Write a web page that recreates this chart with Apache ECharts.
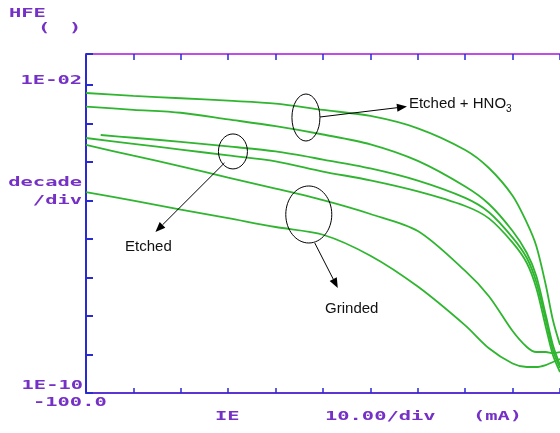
<!DOCTYPE html>
<html><head><meta charset="utf-8">
<script src="https://cdn.jsdelivr.net/npm/echarts@6/dist/echarts.min.js"></script>
<style>html,body{margin:0;padding:0;background:#fff}#c{width:560px;height:433px}</style>
</head><body><div id="c"></div>
<script>
// ---- data (IE in mA, HFE) ----
const ieMain = [-100, -90, -80, -70, -60, -50, -40, -30, -20, -15, -10, -7, -5, -3, -1.5, 0];
const ieCurve3 = [-96.9, -90, -80, -70, -60, -50, -40, -30, -20, -15, -10, -7, -5, -3, -1.5, 0];
const hfeCurve1 = [6.19e-3, 5.24e-3, 4.52e-3, 3.91e-3, 3.29e-3, 2.25e-3, 1.57e-3, 7.50e-4, 2.05e-4, 6.98e-5, 1.33e-5, 2.65e-6, 6.58e-7, 6.38e-8, 7.87e-9, 1.77e-9];
const hfeCurve2 = [2.73e-3, 2.27e-3, 1.90e-3, 1.28e-3, 8.51e-4, 5.18e-4, 2.88e-4, 1.07e-4, 2.31e-5, 8.11e-6, 1.61e-6, 4.33e-7, 1.09e-7, 1.06e-8, 1.77e-9, 5.33e-10];
const hfeCurve3 = [5.02e-4, 4.26e-4, 3.35e-4, 2.53e-4, 1.88e-4, 1.16e-4, 6.82e-5, 3.29e-5, 1.17e-5, 4.97e-6, 1.09e-6, 3.21e-7, 7.64e-8, 7.87e-9, 1.31e-9, 4.46e-10];
const hfeCurve4 = [4.20e-4, 2.97e-4, 2.10e-4, 1.48e-4, 1.04e-4, 5.66e-5, 3.33e-5, 1.72e-5, 7.19e-6, 3.43e-6, 8.05e-7, 2.38e-7, 5.33e-8, 5.18e-9, 9.70e-10, 3.51e-10];
const hfeCurve5 = [2.77e-4, 1.46e-4, 7.73e-5, 3.95e-5, 2.04e-5, 1.02e-5, 4.46e-6, 1.61e-6, 1.48e-7, 3.27e-8, 4.07e-9, 1.57e-9, 1.16e-9, 1.16e-9, 1.09e-9, 1.16e-9];
const hfeCurve6 = [1.66e-5, 9.89e-6, 5.83e-6, 3.47e-6, 2.05e-6, 1.29e-6, 3.68e-7, 5.81e-8, 5.70e-9, 1.45e-9, 5.83e-10, 4.73e-10, 4.73e-10, 5.33e-10, 6.38e-10, 7.64e-10];

const yTickValues = [1e-2, 1e-10];
const yTickTexts = ['1E-02', '1E-10'];
const xTickValues = [-100];
const xTickTexts = ['-100.0'];
const yUnitText = ['decade', '/div'];
const xAxisTexts = ['IE', '10.00/div', '(mA)'];
const yAxisTitle = 'HFE';
const annotationTexts = ['Etched + HNO', '3', 'Etched', 'Grinded'];
// annotation anchors (data space)
const annoIE = [-53.6, -69.0, -53.0];
const annoHFE = [1.43e-3, 1.88e-4, 4.33e-6];

// ---- styling ----
const PURPLE = '#7530c6';
const BLUE = '#2a2ad2';
const MAGENTA = '#c04ee6';
const GREEN = '#2fb52f';

function zip(xs, ys) { return xs.map((x, i) => [x, ys[i]]); }
const curves = [
  zip(ieMain, hfeCurve1), zip(ieMain, hfeCurve2), zip(ieCurve3, hfeCurve3),
  zip(ieMain, hfeCurve4), zip(ieMain, hfeCurve5), zip(ieMain, hfeCurve6)
];

const option = {
  animation: false,
  backgroundColor: '#ffffff',
  grid: { left: 86, top: 54, right: -11, bottom: 40, containLabel: false },
  xAxis: [
    { type: 'value', position: 'bottom', min: -100, max: 0, interval: 10,
      axisLine: { show: true, onZero: false, lineStyle: { color: '#5b34d4', width: 2 } },
      axisTick: { show: true, inside: true, length: 5, lineStyle: { color: BLUE, width: 1.5 } },
      axisLabel: { show: false }, splitLine: { show: false } },
    { type: 'value', position: 'top', min: -100, max: 0, interval: 10,
      axisLine: { show: true, onZero: false, lineStyle: { color: MAGENTA, width: 2 } },
      axisTick: { show: true, inside: true, length: 6, lineStyle: { color: BLUE, width: 1.5 } },
      axisLabel: { show: false }, splitLine: { show: false } }
  ],
  yAxis: {
    type: 'log', logBase: 10, min: 1e-10, max: Math.pow(10, -1.195), splitNumber: 10,
    axisLine: { show: true, onZero: false, lineStyle: { color: BLUE, width: 2 } },
    axisTick: { show: true, inside: true, length: 7, lineStyle: { color: BLUE, width: 2 } },
    axisLabel: { show: false }, splitLine: { show: false }, minorTick: { show: false }
  },
  series: curves.map((d) => ({
    type: 'line', data: d, showSymbol: false, smooth: 0.3,
    clip: true, lineStyle: { color: GREEN, width: 1.8 }, silent: true
  }))
};

const chart = echarts.init(document.getElementById('c'), null, { renderer: 'canvas' });
chart.setOption(option);

const P = (x, y) => chart.convertToPixel({ gridIndex: 0 }, [x, y]);
const xLeft = P(-100, 1e-5)[0];

function lcd(text, x, y, align) {
  return { type: 'text', x: x, y: y, scaleX: 1.57, scaleY: 1, silent: true, z: 10,
    style: { text: text, fontFamily: 'DejaVu Sans Mono', fontWeight: 'bold', fontSize: 13,
      fill: PURPLE, align: align, textAlign: align, verticalAlign: 'middle', textVerticalAlign: 'middle' } };
}
function sans(text, x, y, align) {
  return { type: 'text', x: x, y: y, silent: true, z: 10,
    style: { text: text, fontFamily: 'Liberation Sans, Arial', fontSize: 15, fill: '#111',
      align: align, textAlign: align, verticalAlign: 'middle', textVerticalAlign: 'middle' } };
}
function arrow(x1, y1, x2, y2) {
  const a = Math.atan2(y2 - y1, x2 - x1), L = 10, W = 4;
  const bx = x2 - L * Math.cos(a), by = y2 - L * Math.sin(a);
  const nx = -Math.sin(a), ny = Math.cos(a);
  return [
    { type: 'line', silent: true, z: 10, shape: { x1: x1, y1: y1, x2: bx, y2: by }, style: { stroke: '#000', lineWidth: 1 } },
    { type: 'polygon', silent: true, z: 10, shape: { points: [[x2, y2], [bx + nx * W, by + ny * W], [bx - nx * W, by - ny * W]] }, style: { fill: '#000' } }
  ];
}
function ellipse(cx, cy, rx, ry) {
  return { type: 'ellipse', silent: true, z: 10, shape: { cx: cx, cy: cy, rx: rx, ry: ry },
    style: { fill: 'rgba(0,0,0,0)', stroke: '#000', lineWidth: 1 } };
}

const g = [];
// axis title
g.push(lcd(yAxisTitle, 9, 14, 'left'));
g.push(lcd('(', 38, 29, 'left'));
g.push(lcd(')', 69, 29, 'left'));
// y tick labels
const y1 = P(-100, yTickValues[0])[1];
const y2 = P(-100, yTickValues[1])[1];
g.push(lcd(yTickTexts[0], xLeft - 4, y1 - 4, 'right'));
g.push(lcd(yTickTexts[1], xLeft - 3, y2 - 7, 'right'));
const yDec = P(-100, 1e-5)[1];
g.push(lcd(yUnitText[0], xLeft - 4, yDec - 18, 'right'));
g.push(lcd(yUnitText[1], xLeft - 4, yDec, 'right'));
// x labels
const xb = P(xTickValues[0], 1e-10);
g.push(lcd(xTickTexts[0], xb[0] - 53, xb[1] + 10, 'left'));
g.push(lcd(xAxisTexts[0], 215, 417, 'left'));
g.push(lcd(xAxisTexts[1], 325, 417, 'left'));
g.push(lcd(xAxisTexts[2], 473, 417, 'left'));

// annotations
const c1 = P(annoIE[0], annoHFE[0]);
g.push(ellipse(c1[0], c1[1], 14, 23.5));
g.push(...arrow(c1[0] + 14, c1[1] - 0.5, c1[0] + 101, c1[1] - 11));
g.push({ type: 'text', x: c1[0] + 103, y: c1[1] - 13.5, silent: true, z: 10,
  style: { text: '{a|' + annotationTexts[0] + '}{s|' + annotationTexts[1] + '}',
    align: 'left', textAlign: 'left', verticalAlign: 'middle', textVerticalAlign: 'middle',
    rich: { a: { fontFamily: 'Liberation Sans, Arial', fontSize: 15, fill: '#111', color: '#111', lineHeight: 20, verticalAlign: 'middle' },
            s: { fontFamily: 'Liberation Sans, Arial', fontSize: 10, fill: '#111', color: '#111', verticalAlign: 'bottom', lineHeight: 12 } } } });
const c2 = P(annoIE[1], annoHFE[1]);
g.push(ellipse(c2[0], c2[1], 14.5, 17.5));
g.push(...arrow(c2[0] - 8.5, c2[1] + 11.5, c2[0] - 77.5, c2[1] + 80.5));
g.push(sans(annotationTexts[2], c2[0] - 84.5, c2[1] + 95.5, 'center'));
const c3 = P(annoIE[2], annoHFE[2]);
g.push(ellipse(c3[0], c3[1], 23, 28.5));
g.push(...arrow(c3[0] + 6, c3[1] + 28.5, c3[0] + 29, c3[1] + 73.5));
g.push(sans(annotationTexts[3], c3[0] + 43, c3[1] + 94.5, 'center'));

chart.setOption({ graphic: { elements: g } });
</script>
</body></html>
